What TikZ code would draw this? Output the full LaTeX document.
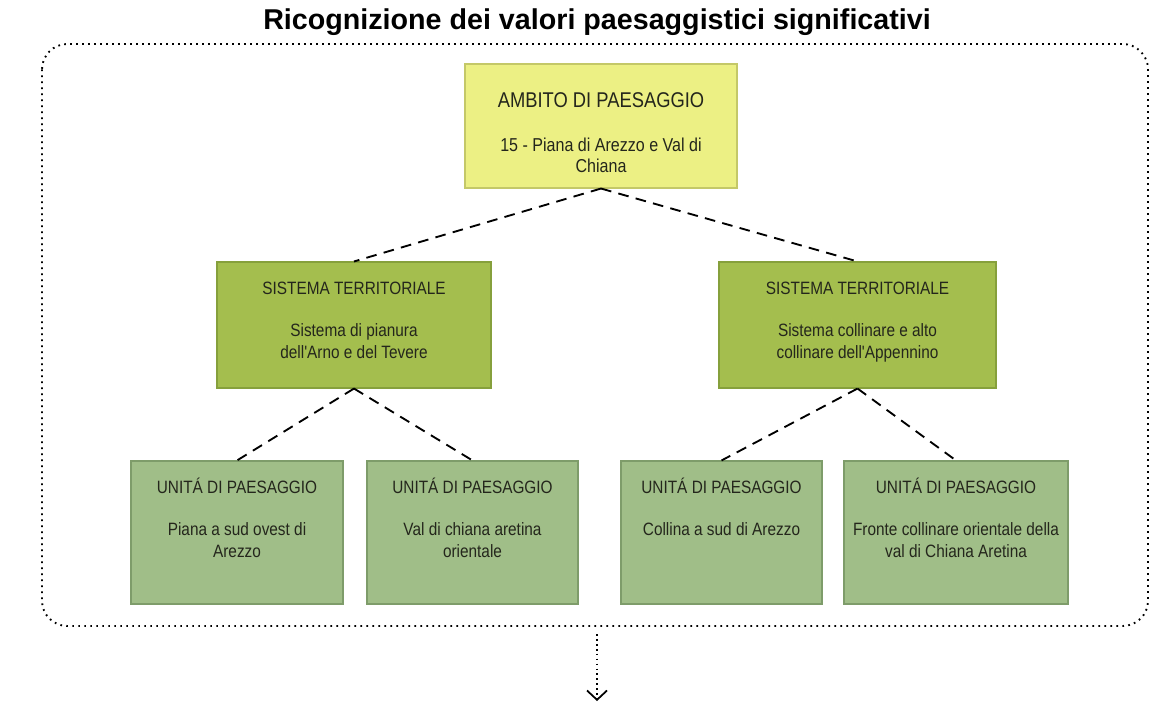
\documentclass[tikz,border=0pt]{standalone}
\usepackage{fontspec}
\setmainfont{Liberation Sans}
\newfontfamily\boxfont[FakeStretch=0.86]{Liberation Sans}
\usetikzlibrary{positioning,arrows.meta}

\definecolor{ambitofill}{RGB}{236,240,132}
\definecolor{ambitoline}{RGB}{196,200,104}
\definecolor{sistemafill}{RGB}{164,190,78}
\definecolor{sistemaline}{RGB}{134,160,60}
\definecolor{unitafill}{RGB}{160,190,136}
\definecolor{unitaline}{RGB}{126,156,106}
\definecolor{testo}{RGB}{36,38,28}

% box text: width, height, heading, body
\newcommand{\boxtxt}[4]{\parbox[c][#2][t]{#1}{\centering\boxfont\fontsize{13.4}{16}\selectfont
  \vspace*{11pt}\rule{0pt}{13pt}#3\par\vspace{16pt}#4}}
\newcommand{\ambitotxt}[4]{\parbox[c][#2][t]{#1}{\centering\boxfont\fontsize{14}{15.75}\selectfont
  \vspace*{19.5pt}\rule{0pt}{13pt}{\fontsize{16}{16}\selectfont #3}\par\vspace{17pt}#4}}

\tikzset{
  ambito/.style={draw=ambitoline, fill=ambitofill, line width=0.8pt, inner sep=0pt, text=testo},
  sistema/.style={draw=sistemaline, fill=sistemafill, line width=0.8pt, inner sep=0pt, text=testo},
  unita/.style={draw=unitaline, fill=unitafill, line width=0.8pt, inner sep=0pt, text=testo},
  link/.style={line width=1.4pt, dash pattern=on 8pt off 5.5pt},
  cornice/.style={line width=1.4pt, dash pattern=on 1.3pt off 3.2pt, rounded corners=19pt},
  flow/.style={line width=1.4pt, dash pattern=on 1.3pt off 2.4pt, -{Straight Barb[length=7pt,width=15pt,line width=1.3pt]}},
}

\begin{document}
\begin{tikzpicture}[x=0.75pt, y=-0.75pt]
\useasboundingbox (0,0) rectangle (1151,706);

% title
\node (titolo) at (597,22) {\fontsize{21.5}{24}\selectfont\bfseries Ricognizione dei valori paesaggistici significativi};

% frame
\draw[cornice] (42,44) rectangle (1148,626);

% level 1
\node[ambito] (ambito) at (601,126)
  {\ambitotxt{204pt}{93pt}{AMBITO DI PAESAGGIO}{15 - Piana di Arezzo e Val di\\ Chiana}};

% level 2
\node[sistema] (sisA) at (354,325)
  {\boxtxt{205.5pt}{94.5pt}{SISTEMA TERRITORIALE}{Sistema di pianura\\ dell'Arno e del Tevere}};
\node[sistema] (sisB) at (857.5,325)
  {\boxtxt{207.75pt}{94.5pt}{SISTEMA TERRITORIALE}{Sistema collinare e alto\\ collinare dell'Appennino}};

% level 3
\node[unita] (unA) at (237,532.5)
  {\boxtxt{159pt}{107.25pt}{UNIT\'A DI PAESAGGIO}{Piana a sud ovest di\\ Arezzo}};
\node[unita] (unB) at (472.5,532.5)
  {\boxtxt{158.25pt}{107.25pt}{UNIT\'A DI PAESAGGIO}{Val di chiana aretina\\ orientale}};
\node[unita] (unC) at (721.5,532.5)
  {\boxtxt{150.75pt}{107.25pt}{UNIT\'A DI PAESAGGIO}{Collina a sud di Arezzo}};
\node[unita] (unD) at (956,532.5)
  {\boxtxt{168pt}{107.25pt}{UNIT\'A DI PAESAGGIO}{Fronte collinare orientale della\\ val di Chiana Aretina}};

% connectors
\draw[link] (ambito.south) -- (sisA.north);
\draw[link] (ambito.south) -- (sisB.north);
\draw[link] (sisA.south) -- (unA.north);
\draw[link] (sisA.south) -- (unB.north);
\draw[link] (sisB.south) -- (unC.north);
\draw[link] (sisB.south) -- (unD.north);

% outgoing arrow
\coordinate (uscita) at (597,634);
\coordinate (freccia) at (597,701);
\draw[flow] (uscita) -- (freccia);
\end{tikzpicture}
\end{document}
